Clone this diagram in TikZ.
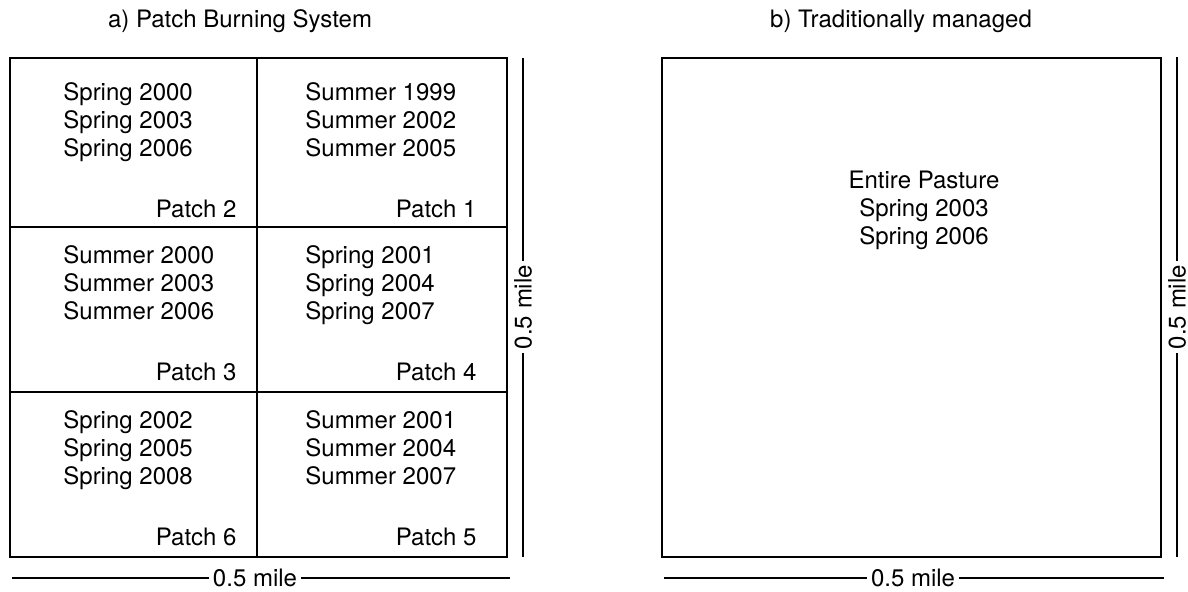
\documentclass[tikz,border=0pt]{standalone}
\usepackage{fontspec}
\setmainfont{TeX Gyre Heros}
\begin{document}
\begin{tikzpicture}[x=0.5pt,y=-0.5pt,
        every node/.style={font=\fontsize{12}{14}\selectfont},
        box/.style={line width=1.2pt},
        rule/.style={line width=1pt},
        season/.style={anchor=base west,inner sep=0pt},
        patch/.style={anchor=base east,inner sep=0pt},
        mile/.style={inner xsep=2pt,inner ysep=0pt}]
        \useasboundingbox (0,0) rectangle (1188,591);

        % titles
        \node[anchor=base] (titlea) at (240,27) {a) Patch Burning System};
        \node[anchor=base] (titleb) at (901,27) {b) Traditionally managed};

        % patch burning box
        \draw[box] (10,58) rectangle (507,557);
        \draw[box] (257,58) -- (257,557);
        \draw[box] (10,227) -- (507,227);
        \draw[box] (10,392) -- (507,392);

        % burn seasons per patch
        \foreach \cx/\cy/\s/\ya/\yb/\yc [count=\c] in {
            63/100/Spring/2000/2003/2006,
            305/100/Summer/1999/2002/2005,
            63/263/Summer/2000/2003/2006,
            305/263/Spring/2001/2004/2007,
            63/428/Spring/2002/2005/2008,
            305/428/Summer/2001/2004/2007} {
          \foreach \yr [count=\l] in {\ya,\yb,\yc}
            \node[season] (c\c l\l) at (\cx,\cy+28*\l-28) {\s\ \yr};
        }

        % patch names
        \foreach \px/\py/\p in {237/217/2, 477/217/1, 237/380/3,
            477/380/4, 237/545/6, 477/545/5}
          \node[patch] (patch\p) at (\px,\py) {Patch \p};

        % traditional box
        \draw[box] (662,58) rectangle (1161,557);
        \node[anchor=base] (entire) at (924,188) {Entire Pasture};
        \node[anchor=base] (entirea) at (924,216) {Spring 2003};
        \node[anchor=base] (entireb) at (924,244) {Spring 2006};

        % scale bars
        \node[mile] (mileax) at (255,578) {0.5 mile};
        \coordinate (axl) at (12,578);
        \coordinate (axr) at (510,578);
        \draw[rule] (axl) -- (mileax.west);
        \draw[rule] (mileax.east) -- (axr);

        \node[mile,rotate=90] (mileay) at (523,307) {0.5 mile};
        \coordinate (ayt) at (523,58);
        \coordinate (ayb) at (523,557);
        \draw[rule] (ayt) -- (mileay.east);
        \draw[rule] (mileay.west) -- (ayb);

        \node[mile] (milebx) at (913,578) {0.5 mile};
        \coordinate (bxl) at (664,578);
        \coordinate (bxr) at (1164,578);
        \draw[rule] (bxl) -- (milebx.west);
        \draw[rule] (milebx.east) -- (bxr);

        \node[mile,rotate=90] (mileby) at (1177,307) {0.5 mile};
        \coordinate (byt) at (1177,57);
        \coordinate (byb) at (1177,557);
        \draw[rule] (byt) -- (mileby.east);
        \draw[rule] (mileby.west) -- (byb);
    \end{tikzpicture}
\end{document}
